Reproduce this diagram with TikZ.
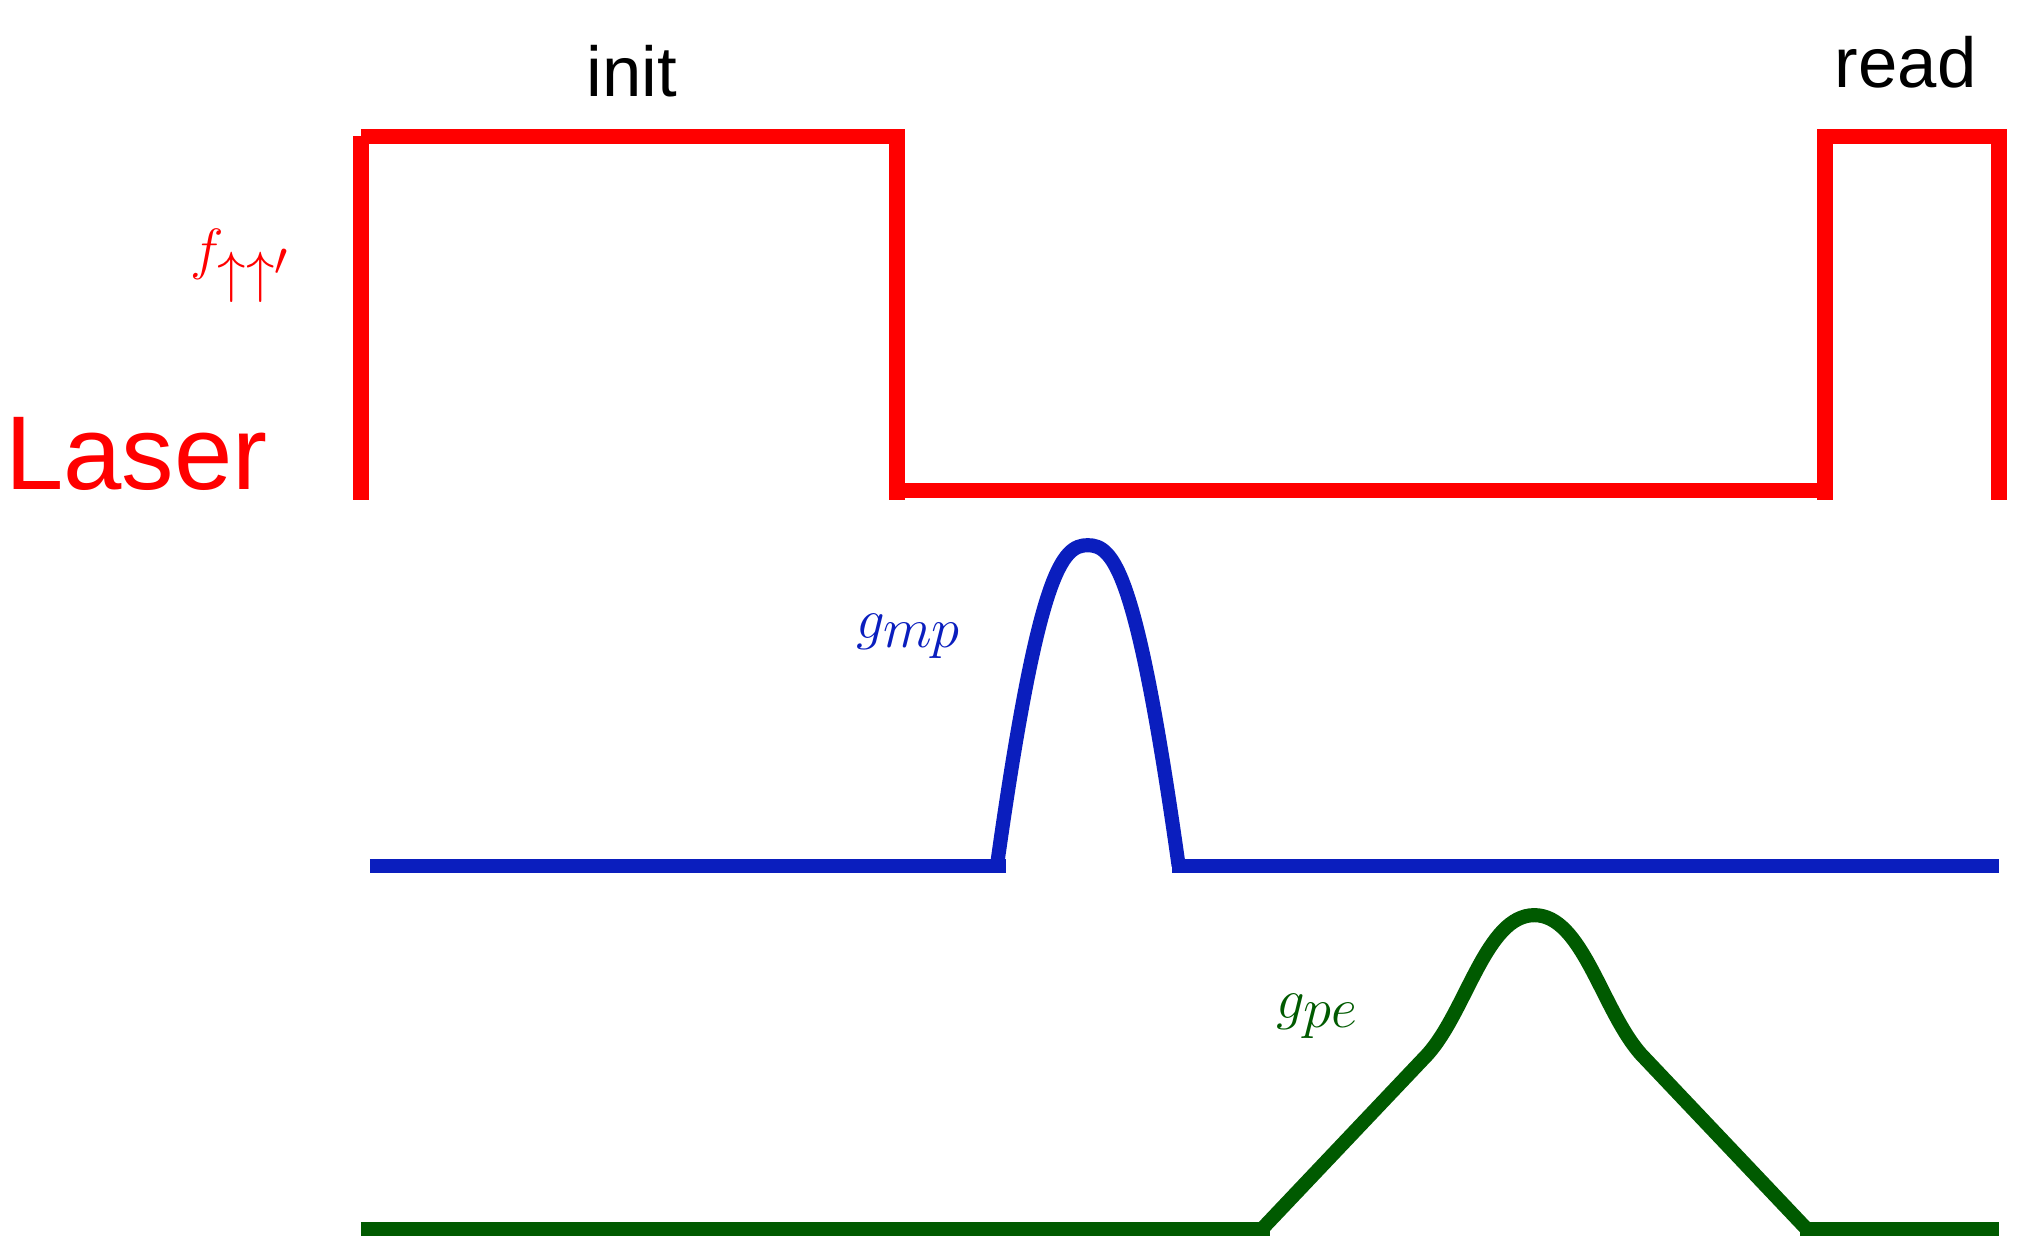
\documentclass[tikz,border=0pt]{standalone}
\usepackage{fontspec}
\setsansfont{Liberation Sans}
\definecolor{lred}{HTML}{FF0000}
\definecolor{lblue}{HTML}{0A1EBE}
\definecolor{lgreen}{HTML}{005A00}
\begin{document}
\begin{tikzpicture}[x=0.02cm,y=-0.02cm,
  redl/.style={draw=lred,line width=6.8pt},
  bluel/.style={draw=lblue,line width=6.2pt},
  greenl/.style={draw=lgreen,line width=6.2pt},
  lbl/.style={font=\sffamily\fontsize{31}{36}\selectfont,inner sep=0pt}]
\useasboundingbox (0,0) rectangle (1560,963);
% red laser
\coordinate (r1) at (278,385); \coordinate (r2) at (278,105);
\draw[redl] (r1) -- (r2);
\draw[redl] (278,105) -- (697,105);
\draw[redl] (691,105) -- (691,385);
\draw[redl] (697,378) -- (1400,378);
\draw[redl] (1406,385) -- (1406,105);
\draw[redl] (1400,105) -- (1546,105);
\draw[redl] (1540,105) -- (1540,385);
% blue
\draw[bluel] (285,667) -- (775,667);
\draw[bluel] (768,667) .. controls (800,440) and (818,420) .. (838,420)
  .. controls (858,420) and (876,440) .. (908,667);
\draw[bluel] (903,667) -- (1540,667);
% green
\draw[greenl] (278,947) -- (978,947);
\draw[greenl] (972,947) -- (1100,812) .. controls (1130,778) and (1145,705) .. (1182,705)
  .. controls (1219,705) and (1234,778) .. (1264,812) -- (1392,947);
\draw[greenl] (1387,947) -- (1540,947);
% labels
\node[lbl] (init) at (487,55) {init};
\node[lbl] (read) at (1468,48) {read};
\node[font=\sffamily\fontsize{46}{50}\selectfont,text=lred,inner sep=0pt] (laser) at (105,350) {Laser};
\node[text=lred,font=\fontsize{40}{44}\selectfont,inner sep=0pt] (f) at (185,205) {$f_{\uparrow\uparrow'}$};
\node[text=lblue,font=\fontsize{36}{40}\selectfont,inner sep=0pt] (gmp) at (700,490) {$g_{mp}$};
\node[text=lgreen,font=\fontsize{36}{40}\selectfont,inner sep=0pt] (gpe) at (1015,783) {$g_{pe}$};
\end{tikzpicture}
\end{document}
